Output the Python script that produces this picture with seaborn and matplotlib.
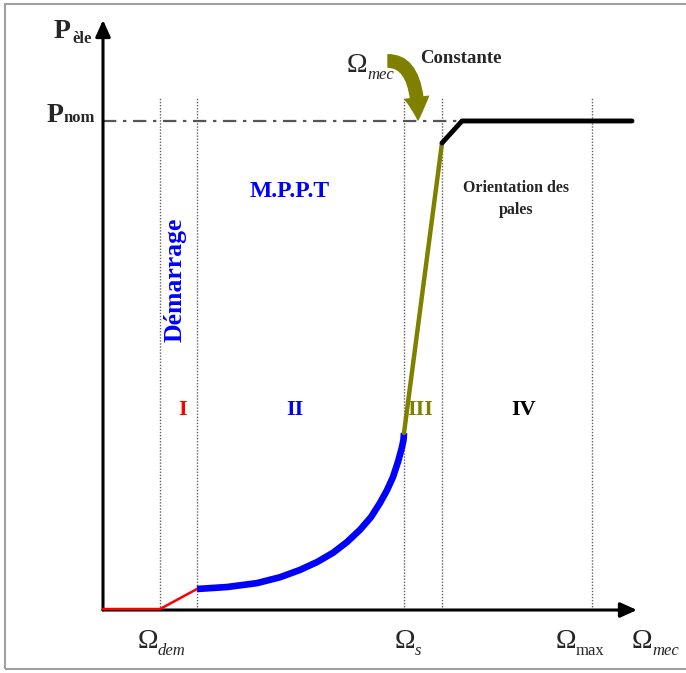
import numpy as np
import pandas as pd
import matplotlib
matplotlib.use("Agg")
import matplotlib.pyplot as plt
from matplotlib.patches import FancyArrowPatch, Rectangle
import seaborn as sns

# ---------------- data (x: Omega_mec, arbitrary units ; y: P_ele / P_nom) -------------
omega_dem = 0.57
omega_I_end = 0.94
omega_s = 3.01
omega_III_end = 3.39
omega_knee = 3.59
omega_max = 4.89
omega_end = 5.29

zone1_x = [0.0, omega_dem, omega_I_end]
zone1_p = [0.002, 0.002, 0.043]

mppt_x = [0.94, 1.24, 1.54, 1.77, 1.97, 2.14, 2.30, 2.44, 2.57, 2.68, 2.77,
          2.84, 2.90, 2.95, 2.99, 3.005, 3.01]
mppt_p = [0.043, 0.047, 0.055, 0.067, 0.082, 0.098, 0.117, 0.139, 0.164, 0.190, 0.219,
          0.245, 0.272, 0.303, 0.333, 0.348, 0.362]

zone3_x = [omega_s, omega_III_end]
zone3_p = [0.362, 0.955]

zone4_x = [omega_III_end, omega_knee, omega_end]
zone4_p = [0.955, 1.0, 1.0]

p_nom = 1.0
boundaries = [omega_dem, omega_I_end, omega_s, omega_III_end, omega_max]
zone_labels = ["I", "II", "III", "IV"]
zone_colors = ["#ff0000", "#0000ff", "#808000", "#000000"]

# ---------------- figure ----------------
sns.set_style("white")
plt.rcParams["font.family"] = ["Liberation Serif", "DejaVu Serif"]

W, H = 686, 673
fig = plt.figure(figsize=(W / 100, H / 100), dpi=100)
ax = fig.add_axes([0, 0, 1, 1])
# data units: 1 x-unit = 100 px, P_nom = 489 px
ax.set_xlim(-1.03, 5.83)
ax.set_ylim(-0.1288, 1.2474)
ax.axis("off")

# frame
fig.add_artist(Rectangle((5 / W, 4 / H), 1.2, (H - 8) / H, transform=fig.transFigure,
                         fill=False, edgecolor="#a0a0a0", lw=1.5))

# axes arrows
ax.annotate("", xy=(5.34, 0), xytext=(0, 0),
            arrowprops=dict(arrowstyle="-|>,head_length=1.0,head_width=0.45",
                            lw=2.2, color="black", shrinkA=0, shrinkB=0))
ax.annotate("", xy=(0, 1.2065), xytext=(0, 0),
            arrowprops=dict(arrowstyle="-|>,head_length=1.0,head_width=0.45",
                            lw=2.2, color="black", shrinkA=0, shrinkB=0))

# boundaries
for b in boundaries:
    ax.plot([b, b], [0, 1.049], color="#606060", lw=1.0, ls=(0, (1, 1.2)), zorder=1)

# P_nom dash-dot
ax.plot([0, omega_knee], [p_nom, p_nom], color="#555555", lw=1.6,
        dashes=(6, 3, 1.5, 3), zorder=1)

# curves
sns.lineplot(x=zone1_x, y=zone1_p, sort=False, color="#ff0000", lw=1.8, ax=ax, zorder=3)
sns.lineplot(x=mppt_x, y=mppt_p, sort=False, color="#0000ff", lw=4.8, ax=ax, zorder=3,
             solid_joinstyle="round", solid_capstyle="butt")
sns.lineplot(x=zone3_x, y=zone3_p, sort=False, color="#808000", lw=3.2, ax=ax, zorder=3)
sns.lineplot(x=zone4_x, y=zone4_p, sort=False, color="#000000", lw=3.5, ax=ax, zorder=3)

# axis labels
ax.text(-0.33, 1.170, "P", fontsize=20, fontweight="bold", ha="right", va="baseline")
ax.text(-0.31, 1.160, "èle", fontsize=12, fontweight="bold", ha="left", va="baseline")
ax.text(-0.40, 0.998, "P", fontsize=20, fontweight="bold", ha="right", va="baseline")
ax.text(-0.39, 0.998, "nom", fontsize=12, fontweight="bold", ha="left", va="baseline")

def omega(x, y, sub, italic=True):
    ax.text(x, y, "Ω", fontsize=20, ha="right", va="baseline")
    ax.text(x, y - 0.015, sub, fontsize=12, ha="left", va="baseline",
            style="italic" if italic else "normal")

omega(0.55, -0.0777, "dem")
omega(3.12, -0.0777, "s")
omega(4.73, -0.0777, "max", italic=False)
omega(5.49, -0.0777, "mec")
omega(2.64, 1.100, "mec")

ax.text(3.17, 1.128, "Constante", fontsize=13.5, fontweight="bold", ha="left", va="center")

# curved arrow
arr = FancyArrowPatch((2.85, 1.1227), (3.15, 1.002),
                      connectionstyle="angle3,angleA=0,angleB=90",
                      arrowstyle="simple,head_length=16,head_width=17,tail_width=9",
                      mutation_scale=1, color="#808000", shrinkA=0, shrinkB=0, zorder=4)
ax.add_patch(arr)

# zone texts
ax.text(1.87, (610 - 192) / 489, "M.P.P.T", fontsize=17, fontweight="bold",
        color="#0000ff", ha="center", va="center")
ax.text(4.13, (610 - 199) / 489, "Orientation des\npales", fontsize=11.5,
        fontweight="bold", ha="center", va="center", linespacing=1.5)
ax.text(0.72, (610 - 280) / 489, "Démarrage", fontsize=18.5, fontweight="bold",
        color="#0000ff", rotation=90, ha="center", va="center")

label_x = [0.80, 1.92, 3.17, 4.21]
for lx, lab, col in zip(label_x, zone_labels, zone_colors):
    ax.text(lx, (610 - 410) / 489, lab, fontsize=16, fontweight="bold",
            color=col, ha="center", va="center")

fig.savefig("out.png", dpi=100)
